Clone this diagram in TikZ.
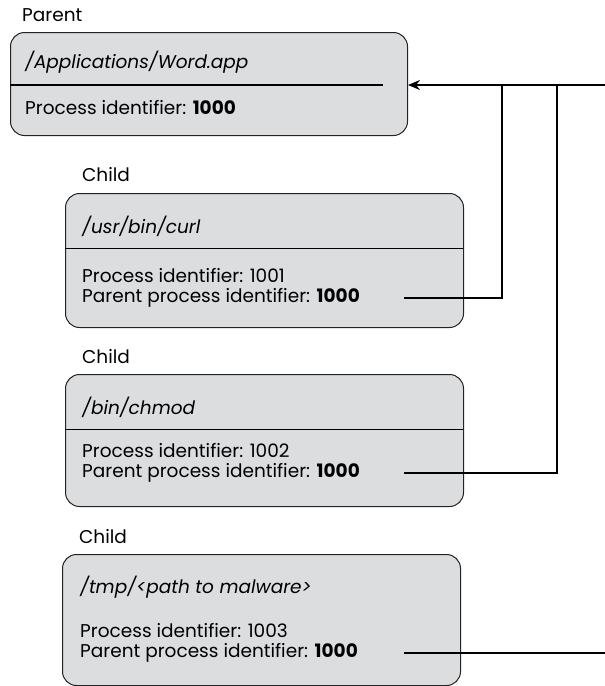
\documentclass[tikz,border=0pt]{standalone}
\usepackage{fontspec}
\setmainfont{Poppins}
\usetikzlibrary{calc}
\usetikzlibrary{arrows.meta}
\definecolor{boxgrey}{RGB}{220,221,223}
\definecolor{edgegrey}{RGB}{35,35,35}
\tikzset{
  every node/.style = {font = \fontsize{18.5}{22}\selectfont, inner sep=0pt}
}
\tikzset{
    >={Stealth[length=12pt, width=10pt]}
}
\tikzset{
  procbox/.style = {draw=edgegrey, fill=boxgrey, line width=1pt,
    rounded corners=14pt, anchor=north west, minimum width=398pt},
  txt/.style = {anchor=west},
  wire/.style = {line width=1.6pt}
}

\begin{document}
\begin{tikzpicture}[x=1pt, y=1pt]
\useasboundingbox (0,0) rectangle (605,-686);

% The boxes
\node[procbox, minimum width=397pt, minimum height=103pt] (parent) at (10,-32) {};
\node[procbox, minimum height=134pt] (curl) at (65,-193) {};
\node[procbox, minimum height=132pt] (chmod) at (65,-374) {};
\node[procbox, minimum height=131pt] (malware) at (62,-554) {};

% Dividers
\draw[line width=1.6pt] (10,-85) -- (383,-85);
\draw (65,-248) -- (463,-248);
\draw (65,-429) -- (463,-429);

% Labels and texts
\node[txt] (plabel) at (22,-15) {Parent};
\node[txt] (ptitle) at (25,-62) {\textit{/Applications/Word.app}};
\node[txt] (ppid) at (25,-108) {Process identifier: \textbf{1000}};

\node[txt] (clabela) at (82,-175) {Child};
\node[txt] (ctitlea) at (82,-226) {\textit{/usr/bin/curl}};
\node[txt] (cpida) at (82,-276) {Process identifier: 1001};
\node[txt] (cppida) at (82,-298) {Parent process identifier: \textbf{1000}};

\node[txt] (clabelb) at (82,-357) {Child};
\node[txt] (ctitleb) at (82,-407) {\textit{/bin/chmod}};
\node[txt] (cpidb) at (82,-451) {Process identifier: 1002};
\node[txt] (cppidb) at (82,-473) {Parent process identifier: \textbf{1000}};

\node[txt] (clabelc) at (79,-537) {Child};
\node[txt] (ctitlec) at (80,-587) {\textit{/tmp/<path to malware>}};
\node[txt] (cpidc) at (80,-631) {Process identifier: 1003};
\node[txt] (cppidc) at (80,-653) {Parent process identifier: \textbf{1000}};

% Wires back to the parent
\coordinate (pin) at (408,-85);
\coordinate (in) at (605,-85);
\coordinate (ja) at (502,-85);
\coordinate (jb) at (557,-85);
\coordinate (ca) at (404,-298);
\coordinate (cb) at (404,-473);
\coordinate (cc) at (404,-653);
\coordinate (out) at (605,-653);

\draw[wire, ->] (in) -- (pin);
\draw[wire] (ca) -| (ja);
\draw[wire] (cb) -| (jb);
\draw[wire] (cc) -- (out);
\end{tikzpicture}
\end{document}
